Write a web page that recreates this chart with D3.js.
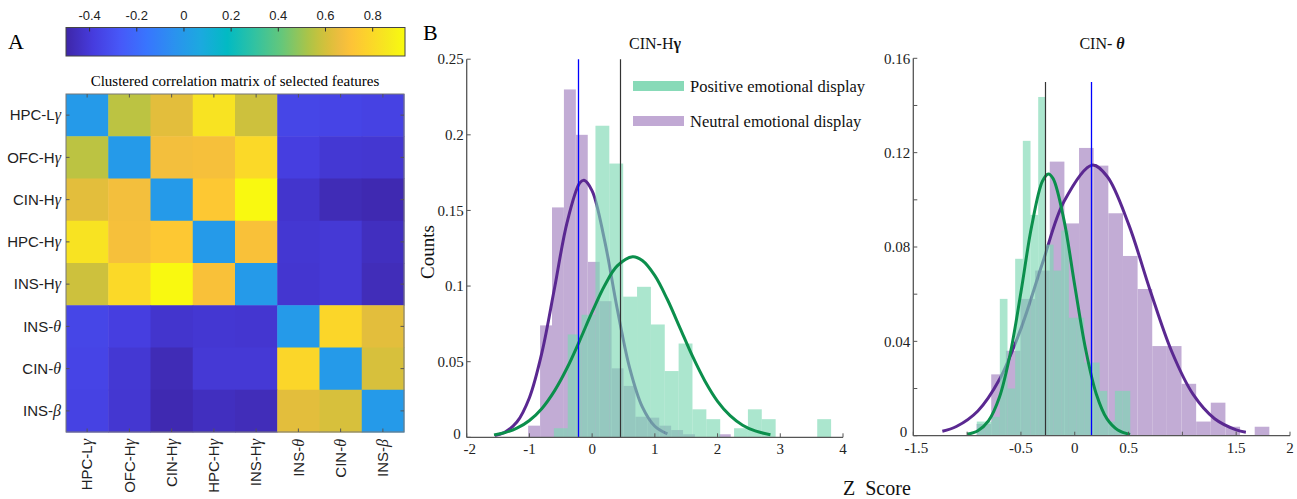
<!DOCTYPE html>
<html><head><meta charset="utf-8">
<script src="https://cdn.jsdelivr.net/npm/d3@7"></script>
<style>body{margin:0;background:#fff}svg{display:block}</style>
</head><body>
<svg id="chart" width="1297" height="499"></svg>
<script>
// ---------------- DATA ----------------
const featureBase = ["HPC-L","OFC-H","CIN-H","HPC-H","INS-H","INS-","CIN-","INS-"];
const featureGreek = ["γ","γ","γ","γ","γ","θ","θ","β"];
const corrMatrix = [
  [0,      0.556,  0.634,  0.839,  0.588, -0.347, -0.352, -0.363],
  [0.556,  0,      0.675,  0.686,  0.80,  -0.379, -0.409, -0.413],
  [0.634,  0.675,  0,      0.732,  0.93,  -0.422, -0.47,  -0.482],
  [0.839,  0.686,  0.732,  0,      0.697, -0.411, -0.404, -0.452],
  [0.588,  0.80,   0.93,   0.697,  0,     -0.415, -0.404, -0.464],
  [-0.347, -0.379, -0.422, -0.411, -0.415, 0,      0.79,   0.634],
  [-0.352, -0.409, -0.47,  -0.404, -0.404, 0.79,   0,      0.608],
  [-0.363, -0.413, -0.482, -0.452, -0.464, 0.634,  0.608,  0]
];
const colorbarTicks = [-0.4,-0.2,0,0.2,0.4,0.6,0.8];
const colorbarLabels = ["-0.4","-0.2","0","0.2","0.4","0.6","0.8"];
const colorLimits = [-0.5, 0.937];

// Panel B, left: CIN-Hγ
const posStart1 = -0.61, posWidth1 = 0.221;
const posCounts1 = [0.006,0.068,0.081,0.206,0.181,0.093,0.0995,0.0746,0.0438,0.062,0.0185,0.012,0,0.006,0.0185,0.012,0,0,0,0.012];
const neuStart1 = -1.02, neuWidth1 = 0.19;
const neuCounts1 = [0.0077,0.074,0.152,0.23,0.2,0.116,0.09,0.0456,0.034,0.0136,0.013,0.0077,0.0048,0.002,0,0,0.002];
const posFitX1 = [-1.565,-1.4,-1.2,-1.0,-0.8,-0.6,-0.4,-0.2,0,0.2,0.4,0.645,0.8,1.0,1.2,1.4,1.6,1.8,2.0,2.2,2.4,2.6,2.843];
const posFitY1 = [0.0016,0.0030,0.0060,0.0111,0.0191,0.0307,0.0458,0.0638,0.0829,0.1004,0.1133,0.1194,0.1169,0.1069,0.0911,0.0724,0.0536,0.0371,0.0238,0.0143,0.0080,0.0042,0.0017];
const neuFitX1 = [-1.55,-1.4,-1.2,-1.0,-0.8,-0.6,-0.4,-0.2,-0.13,0,0.2,0.4,0.6,0.8,1.0,1.2];
const neuFitY1 = [0.0012,0.0032,0.0101,0.0262,0.0561,0.0985,0.1420,0.1680,0.17,0.1630,0.1299,0.0850,0.0456,0.0201,0.0073,0.0022];
const meanPos1 = 0.44, meanNeu1 = -0.232;
const yTicks1 = [0,0.05,0.1,0.15,0.2,0.25];
const xTicks1 = [-2,-1,0,1,2,3,4];

// Panel B, right: CIN-θ
const posStart2 = -0.91, posWidth2 = 0.0713;
const posCounts2 = [0.006,0.006,0.008,0.058,0.02,0.075,0.125,0.0936,0.1436,0.081,0.07,0.087,0.05,0.05,0.031,0.031,0.019,0.006,0.019,0.019];
const neuStart2 = -0.912, neuWidth2 = 0.136;
const neuCounts2 = [0.005,0.026,0.036,0.058,0.070,0.1162,0.090,0.122,0.1145,0.0943,0.0762,0.0622,0.038,0.038,0.022,0.006,0.014,0.0038,0,0.0038];
const posFitX2 = [-1.0,-0.9,-0.8,-0.7,-0.6,-0.5,-0.4,-0.3,-0.245,-0.2,-0.1,0,0.1,0.2,0.3,0.4,0.514];
const posFitY2 = [0.0006,0.0021,0.0064,0.0163,0.0346,0.0608,0.0889,0.1079,0.111,0.1089,0.0914,0.0637,0.0369,0.0177,0.0071,0.0024,0.0005];
const neuFitX2 = [-1.23,-1.1,-0.9,-0.7,-0.5,-0.3,-0.1,0.16,0.3,0.5,0.7,0.9,1.1,1.3,1.5,1.59];
const neuFitY2 = [0.0019,0.0039,0.0105,0.0238,0.0454,0.0731,0.0993,0.1147,0.1100,0.0897,0.0617,0.0358,0.0175,0.0072,0.0025,0.0015];
const meanPos2 = -0.276, meanNeu2 = 0.155;
const yTicks2 = [0,0.02,0.04,0.06,0.08,0.10,0.12,0.14,0.16];
const yLabels2 = [0,0.04,0.08,0.12,0.16];
const xTicks2 = [-1.5,-1,-0.5,0,0.5,1,1.5,2];
const xLabels2 = [-1.5,-0.5,0,0.5,1.5,2];

const legendLabels = ["Positive emotional display","Neutral emotional display"];

// parula colormap stops (t in [0,1])
const parulaT = [0,5,10,15,20,25,30,35,40,45,47,49,51,53,56,60,63].map(i=>i/63);
const parulaC = ["#3e26a8","#463cde","#4758f8","#3875fe","#2b91ef","#1ca9df","#02bac3","#31c2a2","#64c77b","#abc448","#c5c23e","#dcbf3b","#efbd3f","#fdc337","#fcd32b","#f6ea1d","#f9fb0e"];

// ---------------- DRAW ----------------
const svg = d3.select("#chart");
const SERIF = "Liberation Serif, Times New Roman, serif";
const SANS = "Liberation Sans, Arial, Helvetica, sans-serif";

const colorScale = d3.scaleLinear()
  .domain(parulaT.map(t => colorLimits[0] + t*(colorLimits[1]-colorLimits[0])))
  .range(parulaC).interpolate(d3.interpolateRgb).clamp(true);

// Panel letters
svg.append("text").attr("x",8).attr("y",49).attr("font-family",SERIF).attr("font-size",22).text("A");
svg.append("text").attr("x",423).attr("y",40).attr("font-family",SERIF).attr("font-size",22).text("B");

// Colorbar
const cb = d3.scaleLinear().domain(colorLimits).range([66,405]);
const grad = svg.append("defs").append("linearGradient").attr("id","parula");
parulaT.forEach((t,i)=>grad.append("stop").attr("offset",t).attr("stop-color",parulaC[i]));
svg.append("rect").attr("x",66).attr("y",27.5).attr("width",339).attr("height",28.5)
  .attr("fill","url(#parula)").attr("stroke","#444").attr("stroke-width",1);
colorbarTicks.forEach((v,i)=>{
  svg.append("line").attr("x1",cb(v)).attr("x2",cb(v)).attr("y1",27.5).attr("y2",31.5).attr("stroke","#333");
  svg.append("text").attr("x",cb(v)).attr("y",20).attr("text-anchor","middle")
    .attr("font-family",SANS).attr("font-size",13).attr("fill","#222").text(colorbarLabels[i]);
});

// Heatmap
const hx = d3.scaleBand().domain(d3.range(8)).range([66,404]);
const hy = d3.scaleBand().domain(d3.range(8)).range([94,432]);
svg.append("text").attr("x",235).attr("y",86).attr("text-anchor","middle")
  .attr("font-family",SERIF).attr("font-size",15).text("Clustered correlation matrix of selected features");
const hm = svg.append("g");
corrMatrix.forEach((row,r)=>row.forEach((v,c)=>{
  hm.append("rect").attr("x",hx(c)).attr("y",hy(r)).attr("width",hx.bandwidth()+0.5).attr("height",hy.bandwidth()+0.5)
    .attr("fill",colorScale(v));
}));
svg.append("rect").attr("x",66).attr("y",94).attr("width",338).attr("height",338)
  .attr("fill","none").attr("stroke","#777").attr("stroke-width",1);
d3.range(8).forEach(i=>{
  const cx = hx(i)+hx.bandwidth()/2, cy = hy(i)+hy.bandwidth()/2;
  [[cx,94,cx,97.5],[cx,432,cx,428.5],[66,cy,69.5,cy],[404,cy,400.5,cy]].forEach(d=>
    svg.append("line").attr("x1",d[0]).attr("y1",d[1]).attr("x2",d[2]).attr("y2",d[3]).attr("stroke","#555"));
  const rl = svg.append("text").attr("x",61).attr("y",cy).attr("dy","0.35em").attr("text-anchor","end")
    .attr("font-family",SANS).attr("font-size",15).attr("fill","#222");
  rl.append("tspan").text(featureBase[i]);
  rl.append("tspan").attr("font-family",SERIF).attr("font-style","italic").attr("font-size",16).text(featureGreek[i]);
  const cl = svg.append("text").attr("transform",`translate(${cx},439) rotate(-90)`).attr("dy","0.35em")
    .attr("text-anchor","end").attr("font-family",SANS).attr("font-size",15).attr("fill","#222");
  cl.append("tspan").text(featureBase[i]);
  cl.append("tspan").attr("font-family",SERIF).attr("font-style","italic").attr("font-size",16).text(featureGreek[i]);
});

// Histogram panel helper
const GREEN_BAR = "#7cd8b2", GREEN_OP = 0.64, PURPLE_BAR = "#c2acd5";
const GREEN_LINE = "#0b8f4c", PURPLE_LINE = "#5a2891";
function panel(cfg){
  const g = svg.append("g");
  const xs = d3.scaleLinear().domain(cfg.xDom).range(cfg.xRange);
  const ys = d3.scaleLinear().domain(cfg.yDom).range(cfg.yRange);
  const bars = (start,w,counts,fill,op)=>counts.forEach((c,i)=>{
    if(!c) return;
    const x0 = start+i*w, x1 = x0+w;
    g.append("rect").attr("x",xs(x0)).attr("y",ys(c)).attr("width",xs(x1)-xs(x0)).attr("height",ys(0)-ys(c))
      .attr("fill",fill).attr("fill-opacity",op);
  });
  const line = d3.line().x(d=>xs(d[0])).y(d=>ys(d[1])).curve(d3.curveCatmullRom);
  bars(cfg.neuStart,cfg.neuWidth,cfg.neuCounts,PURPLE_BAR,1);
  g.append("path").attr("d",line(d3.zip(cfg.neuFitX,cfg.neuFitY))).attr("fill","none").attr("stroke",PURPLE_LINE).attr("stroke-width",3);
  bars(cfg.posStart,cfg.posWidth,cfg.posCounts,GREEN_BAR,GREEN_OP);
  g.append("path").attr("d",line(d3.zip(cfg.posFitX,cfg.posFitY))).attr("fill","none").attr("stroke",GREEN_LINE).attr("stroke-width",3);
  const snap = v => Math.round(xs(v)) + 0.5;
  g.append("line").attr("x1",snap(cfg.meanPos)).attr("x2",snap(cfg.meanPos)).attr("y1",ys(0)).attr("y2",ys(cfg.lineTop)).attr("stroke","#333").attr("stroke-width",1.2);
  g.append("line").attr("x1",snap(cfg.meanNeu)).attr("x2",snap(cfg.meanNeu)).attr("y1",ys(0)).attr("y2",ys(cfg.lineTop)).attr("stroke","#0000ff").attr("stroke-width",1.3);
  // axes
  const ax = "#555";
  g.append("line").attr("x1",cfg.xRange[0]).attr("x2",cfg.xRange[1]).attr("y1",ys(0)).attr("y2",ys(0)).attr("stroke",ax).attr("stroke-width",1.3);
  g.append("line").attr("x1",cfg.xRange[0]).attr("x2",cfg.xRange[0]).attr("y1",ys(0)).attr("y2",ys(cfg.yDom[1])).attr("stroke",ax).attr("stroke-width",1.3);
  cfg.xTicks.forEach(v=>{
    g.append("line").attr("x1",xs(v)).attr("x2",xs(v)).attr("y1",ys(0)).attr("y2",ys(0)-4).attr("stroke",ax);
  });
  cfg.xLabels.forEach(v=>{
    g.append("text").attr("x",xs(v)+(v===cfg.xDom[0]?3:0)).attr("y",ys(0)+17).attr("text-anchor","middle")
      .attr("font-family",SERIF).attr("font-size",15).attr("fill","#222").text(String(v));
  });
  cfg.yTicks.forEach(v=>{
    g.append("line").attr("x1",cfg.xRange[0]).attr("x2",cfg.xRange[0]+4).attr("y1",ys(v)).attr("y2",ys(v)).attr("stroke",ax);
  });
  cfg.yLabels.forEach(v=>{
    g.append("text").attr("x",cfg.xRange[0]-(v===0?6:3)).attr("y",ys(v)-(v===0?4:0)).attr("dy","0.35em").attr("text-anchor","end")
      .attr("font-family",SERIF).attr("font-size",15).attr("fill","#222").text(String(v));
  });
  const t = g.append("text").attr("x",cfg.titleX).attr("y",49).attr("text-anchor","middle")
    .attr("font-family",SERIF).attr("font-size",16).attr("fill","#111");
  t.append("tspan").text(cfg.title[0]);
  t.append("tspan").attr("font-weight","bold").attr("font-style",cfg.titleItalic?"italic":"normal").text(cfg.title[1]);
  return {xs,ys};
}

panel({xDom:[-2,4], xRange:[466.7,843], yDom:[0,0.25], yRange:[437.3,59.2],
  posStart:posStart1,posWidth:posWidth1,posCounts:posCounts1,
  neuStart:neuStart1,neuWidth:neuWidth1,neuCounts:neuCounts1,
  posFitX:posFitX1,posFitY:posFitY1,neuFitX:neuFitX1,neuFitY:neuFitY1,
  meanPos:meanPos1,meanNeu:meanNeu1,lineTop:0.25,
  xTicks:xTicks1,xLabels:xTicks1,yTicks:yTicks1,yLabels:yTicks1,
  title:["CIN-H","γ"],titleX:655,titleItalic:false});

panel({xDom:[-1.5,2], xRange:[913.3,1290], yDom:[0,0.16], yRange:[435.7,58.3],
  posStart:posStart2,posWidth:posWidth2,posCounts:posCounts2,
  neuStart:neuStart2,neuWidth:neuWidth2,neuCounts:neuCounts2,
  posFitX:posFitX2,posFitY:posFitY2,neuFitX:neuFitX2,neuFitY:neuFitY2,
  meanPos:meanPos2,meanNeu:meanNeu2,lineTop:0.15,
  xTicks:xTicks2,xLabels:xLabels2,yTicks:yTicks2,yLabels:yLabels2,
  title:["CIN- ","θ"],titleX:1102,titleItalic:true});

// Legend
const legColors = ["#88dab8","#c1a9d4"];
legendLabels.forEach((l,i)=>{
  const y = 86 + i*35;
  svg.append("rect").attr("x",633).attr("y",y-5).attr("width",51).attr("height",10).attr("fill",legColors[i]);
  svg.append("text").attr("x",690).attr("y",y).attr("dy","0.35em").attr("font-family",SERIF).attr("font-size",16.5).attr("fill","#111").text(l);
});

// Axis titles
svg.append("text").attr("transform","translate(434,252) rotate(-90)").attr("text-anchor","middle")
  .attr("font-family",SERIF).attr("font-size",19).attr("fill","#111").text("Counts");
svg.append("text").attr("x",843).attr("y",495).attr("font-family",SERIF).attr("font-size",20)
  .attr("fill","#111").attr("xml:space","preserve").style("white-space","pre").text("Z  Score");
</script>
</body></html>
